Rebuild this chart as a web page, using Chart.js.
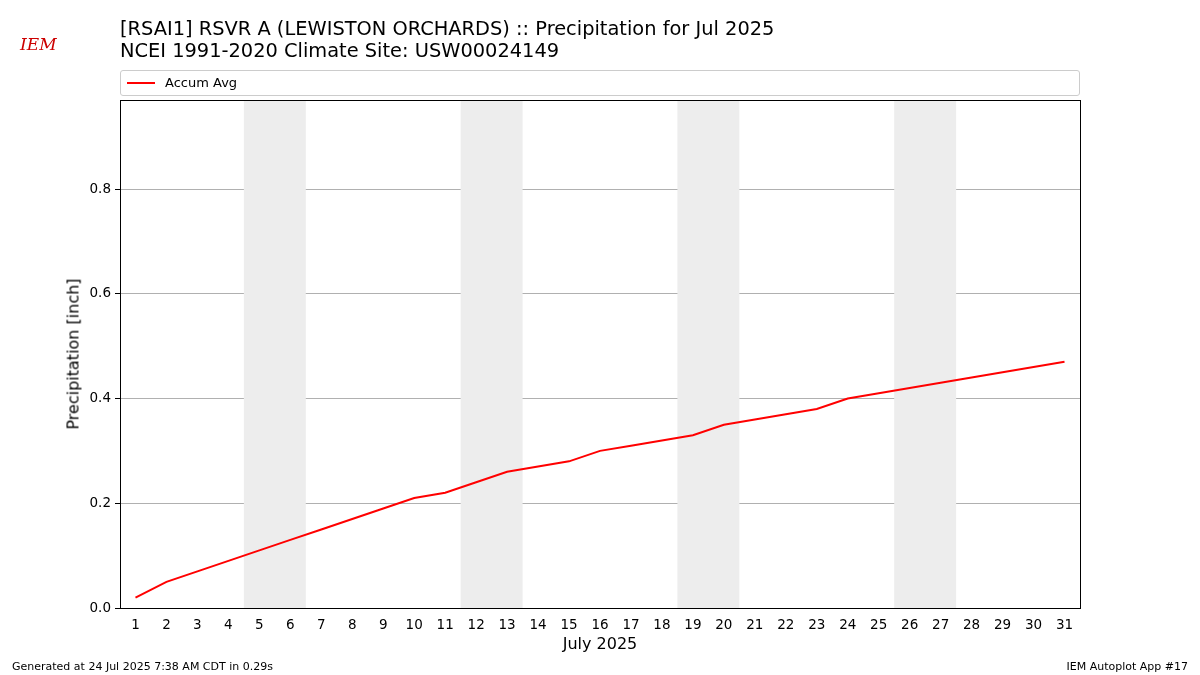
<!DOCTYPE html>
<html><head><meta charset="utf-8">
<script src="https://cdn.jsdelivr.net/npm/chart.js@4/dist/chart.umd.min.js"></script>
<style>
body{margin:0;width:1200px;height:675px;position:relative;background:#fff;font-family:"DejaVu Sans",sans-serif;overflow:hidden;color:#000}
#c{position:absolute;left:0;top:0}
.t{position:absolute;left:120px;font-size:19.4px;line-height:22px}
#lg{position:absolute;left:120px;top:70px;width:958px;height:24px;border:1px solid #ccc;border-radius:3px;font-size:13px}
#lg span.l{position:absolute;left:6px;top:11px;width:28px;height:2px;background:red}
#lg span.x{position:absolute;left:44px;top:4px}
.f{position:absolute;top:660px;font-size:11px}
#logo{position:absolute;left:20px;top:34px;color:#c00;font-family:"DejaVu Serif",serif;font-style:italic;font-size:17px}
#xt{position:absolute;left:0;width:1200px;text-align:center;top:634px;font-size:16px}
#yt{position:absolute;left:73px;top:354px;font-size:16px;color:#000;transform:translate(-50%,-50%) rotate(-90deg);white-space:nowrap}
</style></head><body>
<canvas id="c" width="1200" height="675"></canvas>
<div id="logo">IEM</div>
<div class="t" style="top:18px">[RSAI1] RSVR A (LEWISTON ORCHARDS) :: Precipitation for Jul 2025</div>
<div class="t" style="top:40px">NCEI 1991-2020 Climate Site: USW00024149</div>
<div id="lg"><span class="l"></span><span class="x">Accum Avg</span></div>
<div id="xt">July 2025</div>
<div id="yt">Precipitation [inch]</div>
<div class="f" style="left:12px">Generated at 24 Jul 2025 7:38 AM CDT in 0.29s</div>
<div class="f" style="right:12px">IEM Autoplot App #17</div>
<script>
const days=[1,2,3,4,5,6,7,8,9,10,11,12,13,14,15,16,17,18,19,20,21,22,23,24,25,26,27,28,29,30,31];
const accumAvg=[0.02,0.05,0.07,0.09,0.11,0.13,0.15,0.17,0.19,0.21,0.22,0.24,0.26,0.27,0.28,0.30,0.31,0.32,0.33,0.35,0.36,0.37,0.38,0.40,0.41,0.42,0.43,0.44,0.45,0.46,0.47];
const weekends=[[4.5,6.5],[11.5,13.5],[18.5,20.5],[25.5,27.5]];
const yTicks=[0,0.2,0.4,0.6,0.8];

const shade={id:'shade',beforeDatasetsDraw(ch){
  const {ctx,chartArea:a,scales:{x}}=ch;ctx.save();ctx.fillStyle='#ededed';
  weekends.forEach(w=>{const l=x.getPixelForValue(w[0]),r=x.getPixelForValue(w[1]);ctx.fillRect(l,a.top,r-l,a.bottom-a.top);});
  ctx.restore();
},afterDraw(ch){const {ctx,chartArea:a}=ch;ctx.save();ctx.strokeStyle='#000';ctx.lineWidth=1;ctx.strokeRect(a.left+.5,a.top+.5,a.right-a.left,a.bottom-a.top);ctx.restore();}};

new Chart(document.getElementById('c'),{type:'line',
  data:{datasets:[{data:days.map((d,i)=>({x:d,y:accumAvg[i]})),borderColor:'red',borderWidth:2,pointRadius:0,tension:0}]},
  options:{responsive:false,animation:false,layout:{padding:{left:0,right:120,top:100,bottom:0}},
    plugins:{legend:{display:false},tooltip:{enabled:false}},
    scales:{
      x:{type:'linear',min:0.5,max:31.5,afterFit:s=>{s.height=67},afterBuildTicks:s=>{s.ticks=days.map(v=>({value:v}))},
        grid:{display:false,drawTicks:true,tickLength:5,tickColor:'#000'},border:{display:false},
        ticks:{color:'#000',font:{size:13.5,family:'DejaVu Sans'},maxRotation:0,autoSkip:false,padding:4}},
      y:{min:0,max:0.97,afterFit:s=>{s.width=120},afterBuildTicks:s=>{s.ticks=yTicks.map(v=>({value:v}))},
        grid:{color:'#b0b0b0',tickColor:'#000',tickLength:5},border:{display:false},
        ticks:{color:'#000',font:{size:13.5,family:'DejaVu Sans'},callback:v=>v.toFixed(1),padding:4}}
    }},plugins:[shade]});
</script></body></html>
